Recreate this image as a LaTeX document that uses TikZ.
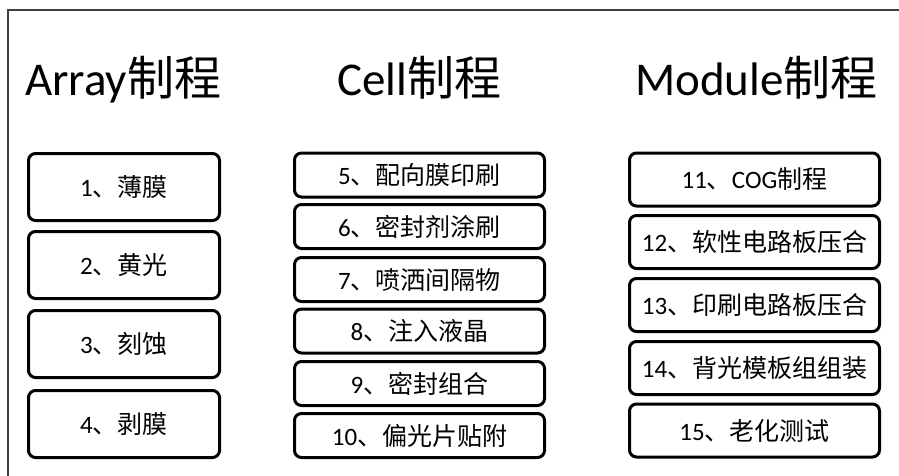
\documentclass[tikz,border=0pt]{standalone}
\usepackage{fontspec}
\setmainfont{Carlito}
\newfontfamily\cjk{Noto Sans CJK SC}
\begin{document}
\begin{tikzpicture}[x=1pt,y=-1pt,
  title/.style={font=\fontsize{47}{50}\selectfont, anchor=base west, inner sep=0pt},
  procbox/.style={draw=black, line width=3pt, rounded corners=7pt, fill=white,
    font=\fontsize{25}{28}\selectfont, inner sep=0pt},
  abox/.style={procbox, minimum width=191pt, minimum height=67pt},
  cbox/.style={procbox, minimum width=250pt, minimum height=44pt},
  mbox/.style={procbox, minimum width=250pt, minimum height=53pt}]
\useasboundingbox (0,0) rectangle (899,476);
\fill[white] (0,0) rectangle (899,476);
\coordinate (ftr) at (899,10);
\coordinate (ftl) at (8,10);
\coordinate (fbl) at (8,476);
\draw[line width=1.2pt, black!75] (ftr) -- (ftl) -- (fbl);

% titles
\node[title] (tA) at (25,96) {Array{\cjk 制程}};
\node[title] (tC) at (337,96) {Cell{\cjk 制程}};
\node[title] (tM) at (635,96) {Module{\cjk 制程}};

% Array column
\node[abox] (a1) at (124,187) {1{\cjk 、薄膜}};
\node[abox] (a2) at (124,265) {2{\cjk 、黄光}};
\node[abox] (a3) at (124,344) {3{\cjk 、刻蚀}};
\node[abox] (a4) at (124,424) {4{\cjk 、剥膜}};

% Cell column
\node[cbox] (c5) at (419.5,175) {5{\cjk 、配向膜印刷}};
\node[cbox] (c6) at (419.5,226.5) {6{\cjk 、密封剂涂刷}};
\node[cbox] (c7) at (419.5,279.5) {7{\cjk 、喷洒间隔物}};
\node[cbox] (c8) at (419.5,331) {8{\cjk 、注入液晶}};
\node[cbox] (c9) at (419.5,383.5) {9{\cjk 、密封组合}};
\node[cbox] (c10) at (419.5,435.5) {10{\cjk 、偏光片贴附}};

% Module column
\node[mbox] (m11) at (754.5,179.5) {11{\cjk 、}COG{\cjk 制程}};
\node[mbox] (m12) at (754.5,242) {12{\cjk 、软性电路板压合}};
\node[mbox] (m13) at (754.5,305) {13{\cjk 、印刷电路板压合}};
\node[mbox] (m14) at (754.5,368) {14{\cjk 、背光模板组组装}};
\node[mbox] (m15) at (754.5,430.5) {15{\cjk 、老化测试}};
\end{tikzpicture}
\end{document}
